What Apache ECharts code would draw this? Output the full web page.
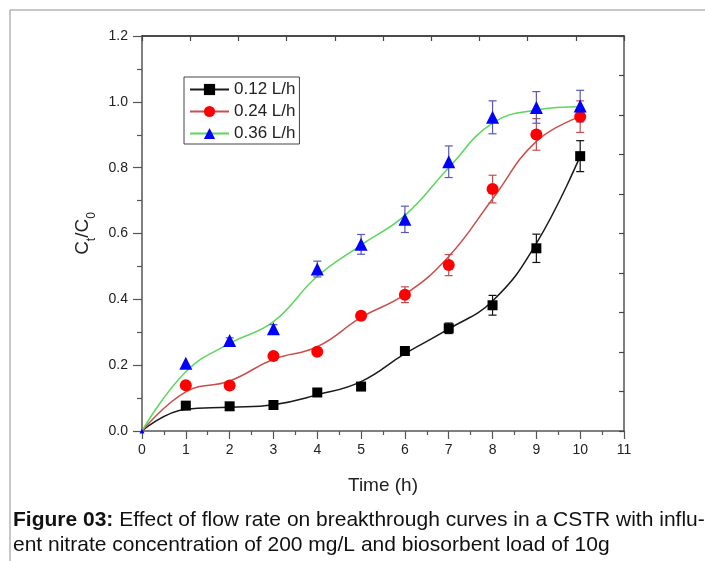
<!DOCTYPE html>
<html><head><meta charset="utf-8">
<script src="https://cdn.jsdelivr.net/npm/echarts@6/dist/echarts.min.js"></script>
<style>html,body{margin:0;padding:0;background:#fff}#c{width:705px;height:561px}</style>
</head><body><div id="c"></div>
<script>
// ---- data ----
const hours = [0, 1, 2, 3, 4, 5, 6, 7, 8, 9, 10];
const seriesNames = ['0.12 L/h', '0.24 L/h', '0.36 L/h'];
// measured points (Ct/C0)
const pts012 = [0, 0.077, 0.075, 0.079, 0.117, 0.135, 0.243, 0.312, 0.382, 0.555, 0.835];
const pts024 = [0, 0.139, 0.138, 0.228, 0.241, 0.350, 0.414, 0.504, 0.735, 0.901, 0.955];
const pts036 = [0, 0.206, 0.275, 0.311, 0.492, 0.567, 0.643, 0.818, 0.953, 0.983, 0.987];
// error bars (±)
const err012 = [0, 0, 0, 0, 0, 0, 0, 0.016, 0.03, 0.043, 0.047];
const err024 = [0, 0, 0, 0, 0, 0.012, 0.024, 0.032, 0.042, 0.048, 0.048];
const err036 = [0, 0, 0.008, 0.012, 0.024, 0.03, 0.04, 0.048, 0.05, 0.048, 0.048];
// fitted curves read at each hour
const fit012 = [0, 0.066, 0.072, 0.08, 0.11, 0.15, 0.235, 0.31, 0.395, 0.57, 0.835];
const fit024 = [0, 0.119, 0.152, 0.218, 0.256, 0.345, 0.415, 0.53, 0.705, 0.88, 0.955];
const fit036 = [0, 0.18, 0.266, 0.332, 0.47, 0.565, 0.655, 0.8, 0.935, 0.975, 0.985];
const xTicks = [0, 1, 2, 3, 4, 5, 6, 7, 8, 9, 10, 11];
const yTicks = [0, 0.2, 0.4, 0.6, 0.8, 1.0, 1.2];

const styles = [
  {line: '#1a1a1a', mark: '#000000', bar: '#111111', symbol: 'rect', size: 10},
  {line: '#c8504c', mark: '#ff0000', bar: '#c05050', symbol: 'circle', size: 12},
  {line: '#5cd65c', mark: '#0000ff', bar: '#5858b8', symbol: 'triangle', size: 13}
];
const pts = [pts012, pts024, pts036];
const errs = [err012, err024, err036];
const fits = [fit012, fit024, fit036];

const FONT = '"Liberation Sans", Arial, sans-serif';
const series = [];
seriesNames.forEach((name, i) => {
  const s = styles[i];
  series.push({
    name, type: 'line', smooth: 0.45, symbol: s.symbol, symbolSize: 10, showSymbol: false,
    data: hours.map((h, k) => [h, fits[i][k]]),
    lineStyle: {color: s.line, width: 1.5}, itemStyle: {color: s.mark}, z: 3, silent: true
  });
});
seriesNames.forEach((name, i) => {
  const s = styles[i];
  series.push({
    type: 'custom', z: 4, silent: true,
    data: hours.map((h, k) => [h, pts[i][k], errs[i][k]]),
    renderItem: (params, api) => {
      const x = api.value(0), y = api.value(1), e = api.value(2);
      if (!(e > 0)) return null;
      const top = api.coord([x, y + e]), bot = api.coord([x, y - e]);
      const st = {stroke: s.bar, lineWidth: 1.2};
      return {type: 'group', children: [
        {type: 'line', shape: {x1: top[0], y1: top[1], x2: bot[0], y2: bot[1]}, style: st},
        {type: 'line', shape: {x1: top[0] - 4, y1: top[1], x2: top[0] + 4, y2: top[1]}, style: st},
        {type: 'line', shape: {x1: bot[0] - 4, y1: bot[1], x2: bot[0] + 4, y2: bot[1]}, style: st}
      ]};
    }
  });
});
seriesNames.forEach((name, i) => {
  const s = styles[i];
  series.push({
    type: 'scatter', symbol: s.symbol, silent: true,
    symbolSize: (v) => v[0] === 0 ? (i === 2 ? 5 : 0) : s.size,
    data: hours.map((h, k) => [h, pts[i][k]]),
    itemStyle: {color: s.mark, opacity: 1}, z: 5
  });
});

const chart = echarts.init(document.getElementById('c'), null, {renderer: 'canvas'});
chart.setOption({
  animation: false,
  backgroundColor: '#fff',
  grid: {left: 142, right: 81, top: 36, bottom: 130, containLabel: false},
  legend: {
    data: seriesNames, orient: 'vertical', left: 184, top: 77,
    itemWidth: 39, itemHeight: 14, itemGap: 5, itemStyle: {opacity: 1},
    padding: [4, 4, 2, 5], borderColor: '#444', borderWidth: 1,
    textStyle: {fontFamily: FONT, fontSize: 17, color: '#222', lineHeight: 14},
    selectedMode: false
  },
  xAxis: [{
    type: 'value', min: xTicks[0], max: xTicks[xTicks.length - 1], interval: 1,
    name: 'Time (h)', nameLocation: 'middle', nameGap: 45,
    nameTextStyle: {fontFamily: FONT, fontSize: 19, color: '#222'},
    axisLine: {onZero: false, lineStyle: {color: '#555', width: 1.5}},
    axisTick: {inside: false, length: 8, lineStyle: {color: '#555', width: 1.2}},
    minorTick: {show: true, splitNumber: 2, length: 4, lineStyle: {color: '#555', width: 1.2}},
    axisLabel: {fontFamily: FONT, fontSize: 14, color: '#222', margin: 12},
    splitLine: {show: false}
  }, {
    type: 'value', position: 'top', min: 0, max: 10, interval: 1,
    axisLine: {show: true, onZero: false, lineStyle: {color: '#111', width: 1.5}},
    axisTick: {show: true, inside: true, length: 5, lineStyle: {color: '#444', width: 1.2}},
    axisLabel: {show: false}, splitLine: {show: false}
  }],
  yAxis: [{
    type: 'value', min: yTicks[0], max: yTicks[yTicks.length - 1], interval: 0.2,
    name: '{a|C}{s|t}{a|/C}{s|0}', nameLocation: 'middle', nameRotate: 90, nameGap: 48,
    nameTextStyle: {fontFamily: FONT, fontSize: 19, color: '#222',
      rich: {a: {fontFamily: FONT, fontSize: 19, color: '#222', lineHeight: 24, verticalAlign: 'bottom'},
             s: {fontFamily: FONT, fontSize: 12, color: '#222', lineHeight: 24, verticalAlign: 'bottom', padding: [0, 0, -5, 0]}}},
    axisLine: {show: true, onZero: false, lineStyle: {color: '#555', width: 1.5}},
    axisTick: {inside: false, length: 9, lineStyle: {color: '#555', width: 1.2}},
    minorTick: {show: true, splitNumber: 2, length: 5, lineStyle: {color: '#555', width: 1.2}},
    axisLabel: {fontFamily: FONT, fontSize: 14, color: '#222', margin: 14, formatter: v => v.toFixed(1)},
    splitLine: {show: false}
  }, {
    type: 'value', position: 'right', min: 0, max: 10, interval: 1,
    axisLine: {show: true, onZero: false, lineStyle: {color: '#555', width: 1.5}},
    axisTick: {show: true, inside: true, length: 5, lineStyle: {color: '#444', width: 1.2}},
    axisLabel: {show: false}, splitLine: {show: false}
  }],
  graphic: [
    {type: 'line', shape: {x1: 10, y1: 10, x2: 705, y2: 10}, style: {stroke: '#b4b4b4', lineWidth: 1.5}},
    {type: 'line', shape: {x1: 10, y1: 10, x2: 10, y2: 561}, style: {stroke: '#b4b4b4', lineWidth: 1.5}},
    {type: 'text', x: 13, y: 520, style: {
      text: '{b|Figure 03:} Effect of flow rate on breakthrough curves in a CSTR with influ-',
      font: '21px ' + FONT, fill: '#111', verticalAlign: 'middle',
      rich: {b: {fontWeight: 'bold', fontSize: 21, fontFamily: FONT, fill: '#111'}}}},
    {type: 'text', x: 13, y: 545, style: {
      text: 'ent nitrate concentration of 200 mg/L and biosorbent load of 10g',
      font: '21px ' + FONT, fill: '#111', verticalAlign: 'middle'}}
  ],
  series
});
</script></body></html>
